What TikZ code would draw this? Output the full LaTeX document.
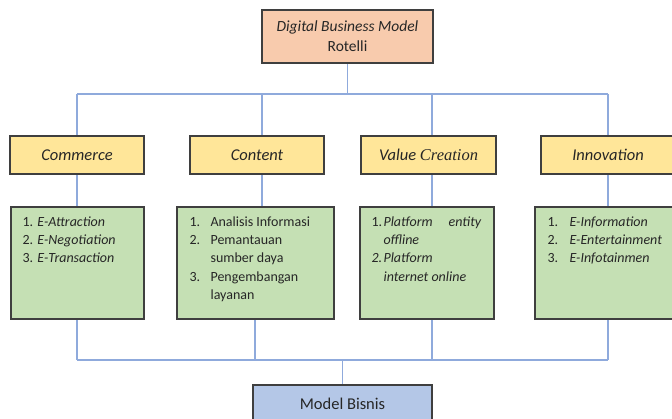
\documentclass[tikz,border=0pt]{standalone}
\usepackage{fontspec}
\setmainfont{Carlito}
\newfontfamily\creationfont{Liberation Serif}
\usetikzlibrary{backgrounds}

\definecolor{peach}{HTML}{F8CBAD}
\definecolor{pillar}{HTML}{FFE699}
\definecolor{listgreen}{HTML}{C5E0B4}
\definecolor{resultblue}{HTML}{B4C7E7}
\definecolor{wire}{HTML}{8FAADC}
\definecolor{edge}{HTML}{3F3F3F}

\tikzset{
  box/.style={draw=edge,line width=1.3pt,inner sep=0pt,align=center,text=black!85},
  pillarbox/.style={box,fill=pillar,minimum width=134,minimum height=38,
    font=\fontsize{16.5}{20}\selectfont\itshape},
  listbox/.style={box,fill=listgreen,minimum height=112},
  items/.style={anchor=base west,inner sep=0pt,text=black!85,
    font=\fontsize{14}{18.3}\selectfont},
  link/.style={draw=wire,line width=1.4pt},
}

\begin{document}
\begin{tikzpicture}[x=1pt,y=-1pt]
\useasboundingbox (0,0) rectangle (672,419);

% top and bottom boxes
\node[box,fill=peach,minimum width=171,minimum height=53,
  font=\fontsize{15.5}{20}\selectfont] (dbm) at (347.5,36.5)
  {\textit{Digital Business Model}\\Rotelli};
\node[box,fill=resultblue,minimum width=179,minimum height=38,
  font=\fontsize{16.5}{20}\selectfont] (bisnis) at (342.5,404) {Model Bisnis};

% the four pillars
\node[pillarbox] (commerce) at (77,155) {Commerce};
\node[pillarbox] (content) at (257,155) {Content};
\node[pillarbox,minimum width=135] (valuecreation) at (428.5,155) {Value {\creationfont Creation}};
\node[pillarbox] (innovation) at (608,155) {Innovation};

% lists under each pillar
\node[listbox,minimum width=133] (commercelist) at (77.5,263) {};
\node[listbox,minimum width=157] (contentlist) at (255.5,263) {};
\node[listbox,minimum width=134] (valuelist) at (427,263) {};
\node[listbox,minimum width=146] (innovationlist) at (608,263) {};

\node[items] (commerceitems) at ([xshift=12pt,yshift=-20pt]commercelist.north west)
  {\begin{tabular}[t]{@{}l@{}}
   1. \textit{E-Attraction}\\
   2. \textit{E-Negotiation}\\
   3. \textit{E-Transaction}
   \end{tabular}};
\node[items] (contentitems) at ([xshift=13pt,yshift=-20pt]contentlist.north west)
  {\begin{tabular}[t]{@{}p{21pt}@{}l@{}}
   1. & Analisis Informasi\\
   2. & Pemantauan\\
      & sumber daya\\
   3. & Pengembangan\\
      & layanan
   \end{tabular}};
\node[items] (valueitems) at ([xshift=12pt,yshift=-20pt]valuelist.north west)
  {\begin{tabular}[t]{@{}p{12pt}@{}l@{}}
   1. & \makebox[98pt][l]{\textit{Platform}\hfill\textit{entity}}\\
      & \textit{offline}\\
   \textit{2.} & \textit{Platform}\\
      & \textit{internet online}
   \end{tabular}};
\node[items] (innovationitems) at ([xshift=13pt,yshift=-20pt]innovationlist.north west)
  {\begin{tabular}[t]{@{}p{22pt}@{}l@{}}
   1. & \textit{E-Information}\\
   2. & \textit{E-Entertainment}\\
   3. & \textit{E-Infotainmen}
   \end{tabular}};

% bus lines
\coordinate (topbus1) at (77,94);
\coordinate (topbus2) at (262,94);
\coordinate (topbus3) at (432,94);
\coordinate (topbus4) at (608,94);
\coordinate (botbus1) at (77,360);
\coordinate (botbus2) at (255,360);
\coordinate (botbus3) at (432,360);
\coordinate (botbus4) at (608,360);

\begin{scope}[on background layer]
\draw[link] (dbm.south) -- (dbm.south |- topbus1);
\draw[link] (topbus1) -- (topbus4);
\foreach \j/\p/\l in {1/commerce/commercelist,2/content/contentlist,
                      3/valuecreation/valuelist,4/innovation/innovationlist}{
  \draw[link] (topbus\j) -- (topbus\j |- \p.north);
  \draw[link] (topbus\j |- \p.south) -- (topbus\j |- \l.north);
  \draw[link] (\l.south -| botbus\j) -- (botbus\j);
}
\draw[link] (botbus1) -- (botbus4);
\draw[link] (botbus1 -| bisnis.north) -- (bisnis.north);
\end{scope}

\end{tikzpicture}
\end{document}
